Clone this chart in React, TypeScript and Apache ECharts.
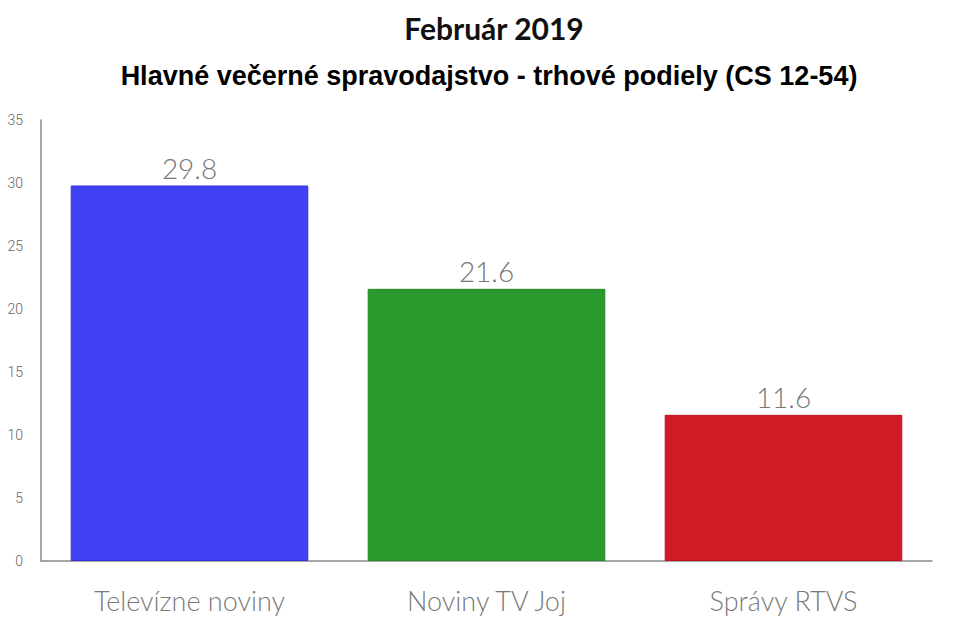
import React, { useEffect, useRef } from "react";
import * as echarts from "echarts";

const categories = ["Televízne noviny", "Noviny TV Joj", "Správy RTVS"];
const values = [29.8, 21.6, 11.6];
const barColors = ["#4040f4", "#2a9a2e", "#d01b26"];
const borderColors = ["#3535d8", "#238a27", "#b8141e"];
const titleText = "Február 2019";
const subtitleText = "Hlavné večerné spravodajstvo - trhové podiely (CS 12-54)";

export default function App() {
  const ref = useRef<HTMLDivElement>(null);
  useEffect(() => {
    if (!ref.current) return;
    const chart = echarts.init(ref.current, null, { renderer: "svg" });
    chart.setOption({
      animation: false,
      backgroundColor: "#ffffff",
      title: [
        {
          text: titleText,
          left: 489,
          textAlign: "center",
          top: 8,
          textStyle: {
            fontFamily: "Lato",
            fontWeight: "bold",
            fontSize: 30,
            color: "#111",
          },
        },
        {
          text: subtitleText,
          left: 484,
          textAlign: "center",
          top: 57,
          textStyle: {
            fontFamily: "Liberation Sans, Arial",
            fontWeight: "bold",
            fontSize: 27,
            color: "#000",
          },
        },
      ],
      grid: { left: 41, right: 27, top: 120, bottom: 72, containLabel: false },
      xAxis: {
        type: "category",
        data: categories,
        axisLine: { lineStyle: { color: "#888", width: 1.5 } },
        axisTick: { show: false },
        axisLabel: {
          fontFamily: "Lato",
          fontWeight: 300,
          fontSize: 27,
          color: "#7a7a7a",
          margin: 26,
        },
      },
      yAxis: {
        type: "value",
        min: 0,
        max: 35,
        interval: 5,
        axisLine: { show: true, lineStyle: { color: "#888", width: 1.5 } },
        axisTick: { show: false },
        splitLine: { show: false },
        axisLabel: {
          fontFamily: "Roboto",
          fontWeight: 300,
          fontSize: 14,
          color: "#666",
          margin: 18,
        },
      },
      series: [
        {
          type: "bar",
          barWidth: "80%",
          data: values.map((v, i) => ({
            value: v,
            itemStyle: { color: barColors[i], borderColor: borderColors[i], borderWidth: 1 },
          })),
          label: {
            show: true,
            position: "top",
            distance: 4,
            fontFamily: "Lato",
            fontWeight: 300,
            fontSize: 28,
            color: "#777",
          },
        },
      ],
    });
    return () => chart.dispose();
  }, []);
  return (
    <div
      ref={ref}
      style={{ position: "fixed", left: 0, top: 0, width: 959, height: 633 }}
    />
  );
}
